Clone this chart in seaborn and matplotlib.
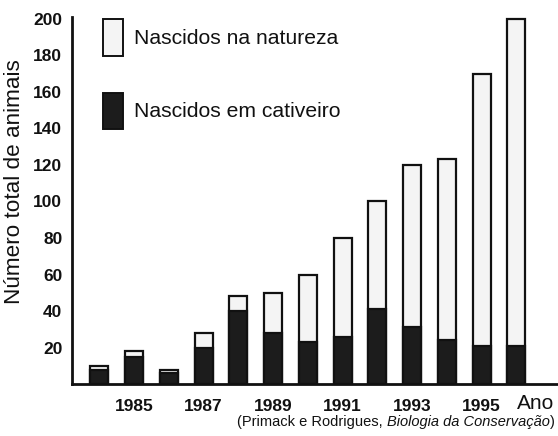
import numpy as np
import pandas as pd
from matplotlib import pyplot as plt
from matplotlib.patches import Patch
import seaborn as sns

# data
years = [1984, 1985, 1986, 1987, 1988, 1989, 1990, 1991, 1992, 1993, 1994, 1995, 1996]
total = [10, 18, 8, 28, 48, 50, 60, 80, 100, 120, 123, 170, 200]
captive = [8, 15, 6, 20, 40, 28, 23, 26, 41, 31, 24, 21, 21]
tick_years = [1985, 1987, 1989, 1991, 1993, 1995]
y_ticks = [20, 40, 60, 80, 100, 120, 140, 160, 180, 200]

df = pd.DataFrame({'ano': [str(y) for y in years], 'total': total, 'cativeiro': captive})

sns.set_style('white')
plt.rcParams['font.family'] = ['Liberation Sans', 'DejaVu Sans']
plt.rcParams['text.color'] = '#111111'
plt.rcParams['xtick.color'] = '#111111'
plt.rcParams['ytick.color'] = '#111111'
plt.rcParams['axes.labelcolor'] = '#111111'

fig = plt.figure(figsize=(5.58, 4.36), dpi=100)
ax = fig.add_axes([0.129, 0.119, 0.871, 0.842])

sns.barplot(data=df, x='ano', y='total', color='#f4f4f4', saturation=1,
            edgecolor='#111111', linewidth=1.6, width=0.52, ax=ax)
sns.barplot(data=df, x='ano', y='cativeiro', color='#1c1c1c', saturation=1,
            edgecolor='#111111', linewidth=1.6, width=0.52, ax=ax)

ax.set_xlim(-0.79, 13.2)
ax.set_ylim(0, 201)
ax.set_yticks(y_ticks)
ax.set_yticklabels([str(v) for v in y_ticks], fontweight='bold', fontsize=12.5)
pos = [years.index(y) for y in tick_years]
ax.set_xticks(pos)
ax.set_xticklabels([str(y) for y in tick_years], fontweight='bold', fontsize=12.5)
ax.tick_params(axis='x', length=0, pad=11)
ax.tick_params(axis='y', length=0, pad=7)

sns.despine(ax=ax)
for side in ['left', 'bottom']:
    ax.spines[side].set_linewidth(2)
    ax.spines[side].set_color('#111111')

ax.set_xlabel('')
ax.set_ylabel('Número total de animais', fontsize=16.2)
ax.yaxis.set_label_coords(-0.097, 0.553)
ax.text(12.55, -10.5, 'Ano', fontsize=15, ha='center', va='center', clip_on=False)

# source line with italic book title
src1 = fig.text(0.425, 0.032, '(Primack e Rodrigues, ', fontsize=10.5, ha='left', va='center')
fig.canvas.draw()
bb = src1.get_window_extent()
src2 = fig.text(bb.x1 / fig.bbox.width, 0.032, 'Biologia da Conservação', fontsize=10.5,
                style='italic', ha='left', va='center')
fig.canvas.draw()
bb2 = src2.get_window_extent()
fig.text(bb2.x1 / fig.bbox.width, 0.032, ')', fontsize=10.5, ha='left', va='center')

handles = [Patch(facecolor='#f4f4f4', edgecolor='#111111', linewidth=1.4),
           Patch(facecolor='#1c1c1c', edgecolor='#111111', linewidth=1.4)]
ax.legend(handles, ['Nascidos na natureza', 'Nascidos em cativeiro'],
          loc='upper left', bbox_to_anchor=(0.064, 0.995), frameon=False,
          borderaxespad=0, borderpad=0,
          fontsize=15.2, handlelength=0.95, handleheight=2.3, labelspacing=1.75,
          handletextpad=0.5)

plt.savefig('out.png', dpi=100)
